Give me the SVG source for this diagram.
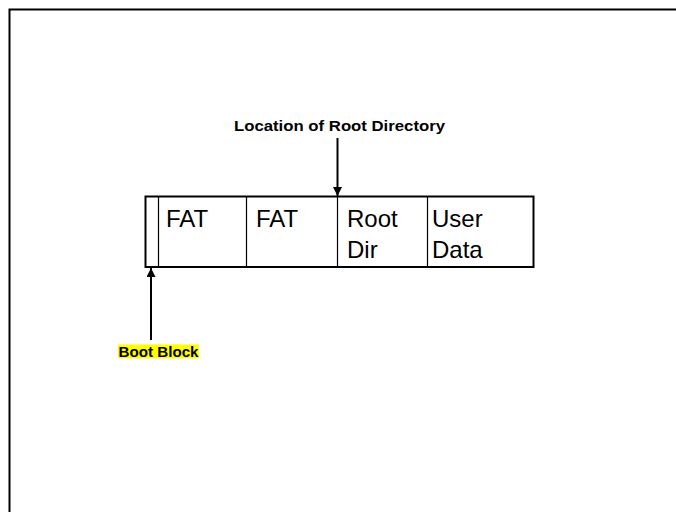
<svg xmlns="http://www.w3.org/2000/svg" width="676" height="512" viewBox="0 0 676 512">
<defs>
<style>
.cell{font-family:"Liberation Sans",Arial,sans-serif;font-size:24px;fill:#000}
.lbl{font-family:"Liberation Sans",Arial,sans-serif;font-size:15px;font-weight:bold;fill:#000}
.div{stroke:#000;stroke-width:1.2}
.arr{stroke:#000;stroke-width:2;fill:none}
</style>
<marker id="ah" viewBox="0 0 10 10" refX="10" refY="5" markerWidth="5" markerHeight="4.5" markerUnits="strokeWidth" orient="auto">
<path d="M0,0 L10,5 L0,10 z" fill="#000"/>
</marker>
</defs>
<rect width="676" height="512" fill="#fff"/>
<path d="M9.5,512 V9.5 H676" fill="none" stroke="#000" stroke-width="2"/>
<g id="disk">
<rect x="145.5" y="196.5" width="388" height="70.5" fill="#fff" stroke="#000" stroke-width="2"/>
<line class="div" x1="158.5" y1="196.5" x2="158.5" y2="267"/>
<line class="div" x1="246.5" y1="196.5" x2="246.5" y2="267"/>
<line class="div" x1="337.5" y1="196.5" x2="337.5" y2="267"/>
<line class="div" x1="427.5" y1="196.5" x2="427.5" y2="267"/>
</g>
<g id="fat1"><text class="cell" x="166" y="227">FAT</text></g>
<g id="fat2"><text class="cell" x="256" y="227">FAT</text></g>
<g id="rootdir"><text class="cell" x="347" y="227">Root</text><text class="cell" x="347" y="258">Dir</text></g>
<g id="userdata"><text class="cell" x="432" y="227">User</text><text class="cell" x="432" y="258">Data</text></g>
<g id="label-root"><text class="lbl" x="234" y="131" textLength="211" lengthAdjust="spacingAndGlyphs">Location of Root Directory</text></g>
<g id="label-boot">
<rect x="118" y="344.5" width="81" height="14" fill="#ffff00"/>
<text class="lbl" x="118.5" y="356.5" textLength="80" lengthAdjust="spacingAndGlyphs" style="font-size:14px">Boot Block</text>
</g>
<g id="connectors">
<line class="arr" x1="337.5" y1="138" x2="337.5" y2="196" marker-end="url(#ah)"/>
<line class="arr" x1="151" y1="340" x2="151" y2="268" marker-end="url(#ah)"/>
</g>
</svg>
